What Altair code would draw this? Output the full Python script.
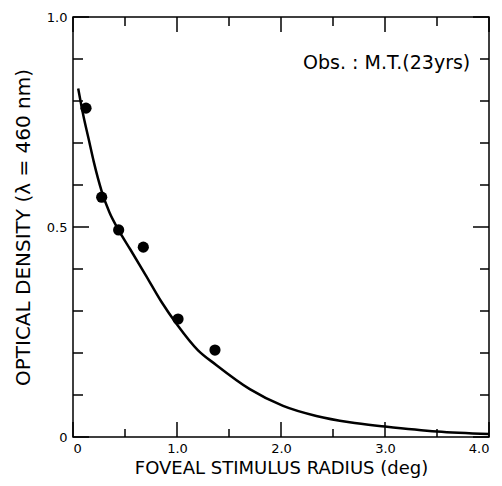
import altair as alt
import pandas as pd

# Measured data points
pt_x = [0.125, 0.276, 0.439, 0.676, 1.01, 1.365]
pt_y = [0.783, 0.571, 0.493, 0.452, 0.281, 0.207]

# Fitted curve
cv_x = [0.05, 0.10, 0.15, 0.20, 0.276, 0.35, 0.44, 0.55, 0.70, 0.85, 1.00, 1.20, 1.38, 1.70, 2.02, 2.34, 2.66, 3.00, 3.50, 4.00]
cv_y = [0.83, 0.765, 0.71, 0.655, 0.585, 0.535, 0.492, 0.447, 0.385, 0.322, 0.268, 0.207, 0.171, 0.114, 0.074, 0.050, 0.035, 0.025, 0.013, 0.007]

# Tick positions
x_labels = [0, 1, 2, 3, 4]
x_major = [0, 1, 2, 3, 4]
x_minor = [0.5, 1.5, 2.5, 3.5]
y_labels = [0, 0.5, 1.0]
y_major = [0, 0.5, 1.0]
y_minor = [0.1, 0.2, 0.3, 0.4, 0.6, 0.7, 0.8, 0.9]

annotation = "Obs. : M.T.(23yrs)"
x_title = "FOVEAL STIMULUS RADIUS (deg)"
y_title = "OPTICAL DENSITY (λ = 460 nm)"

W, H = 416, 420
FONT = "DejaVu Sans"

xscale = alt.Scale(domain=[0, 4], nice=False, zero=False)
yscale = alt.Scale(domain=[0, 1], nice=False, zero=False)

xaxis = alt.Axis(
    values=x_labels,
    labelExpr="datum.value == 0 ? '0' : format(datum.value, '.1f')",
    ticks=False, domain=False, grid=False,
    labelFontSize=13, labelPadding=5, labelColor="black", labelFont=FONT,
    title=x_title, titleFontSize=18, titleFontWeight="normal", titleFont=FONT,
    titleColor="black", titleY=36, titleBaseline="alphabetic",
)
yaxis = alt.Axis(
    values=y_labels,
    labelExpr="datum.value == 0 ? '0' : format(datum.value, '.1f')",
    ticks=False, domain=False, grid=False,
    labelFontSize=13, labelPadding=6, labelColor="black", labelFont=FONT,
    title=y_title, titleFontSize=20, titleFontWeight="normal", titleFont=FONT,
    titleColor="black", titleX=-50, titleAngle=270, titleBaseline="middle",
)

pts = pd.DataFrame({"x": pt_x, "y": pt_y})
cv = pd.DataFrame({"x": cv_x, "y": cv_y})

points = alt.Chart(pts).mark_circle(size=125, color="black", opacity=1).encode(
    x=alt.X("x:Q", scale=xscale, axis=xaxis), y=alt.Y("y:Q", scale=yscale, axis=yaxis))
curve = alt.Chart(cv).mark_line(color="black", strokeWidth=2.5, interpolate="monotone").encode(
    x=alt.X("x:Q", scale=xscale, axis=xaxis), y=alt.Y("y:Q", scale=yscale, axis=yaxis))

label = alt.Chart(pd.DataFrame({"txt": [annotation]})).mark_text(
    align="right", baseline="middle", fontSize=19, font=FONT, color="black"
).encode(x=alt.datum(3.82), y=alt.datum(0.89), text="txt:N")


def xticks(vals, length, top):
    src = pd.DataFrame({"t": vals})
    if top:
        return alt.Chart(src).mark_rule(color="black", strokeWidth=1.5).encode(
            x=alt.X("t:Q", scale=xscale), y=alt.value(0), y2=alt.value(length))
    return alt.Chart(src).mark_rule(color="black", strokeWidth=1.5).encode(
        x=alt.X("t:Q", scale=xscale), y=alt.value(H), y2=alt.value(H - length))


def yticks(vals, length, right):
    src = pd.DataFrame({"t": vals})
    if right:
        return alt.Chart(src).mark_rule(color="black", strokeWidth=1.5).encode(
            y=alt.Y("t:Q", scale=yscale), x=alt.value(W), x2=alt.value(W - length))
    return alt.Chart(src).mark_rule(color="black", strokeWidth=1.5).encode(
        y=alt.Y("t:Q", scale=yscale), x=alt.value(0), x2=alt.value(length))


ticks = [
    xticks(x_major, 15, False), xticks(x_minor, 8, False),
    xticks(x_major, 15, True), xticks(x_minor, 9, True),
    yticks(y_major, 16, False), yticks(y_minor, 10, False),
    yticks(y_major, 16, True), yticks(y_minor, 9, True),
]

chart = alt.layer(points, curve, label, *ticks).properties(
    width=W, height=H,
    autosize=alt.AutoSizeParams(type="none"),
    padding={"left": 65, "top": 9, "right": 5, "bottom": 41},
).configure_view(stroke="black", strokeWidth=1.5)

chart.save("out.html", embed_options={"renderer": "svg", "actions": False})
